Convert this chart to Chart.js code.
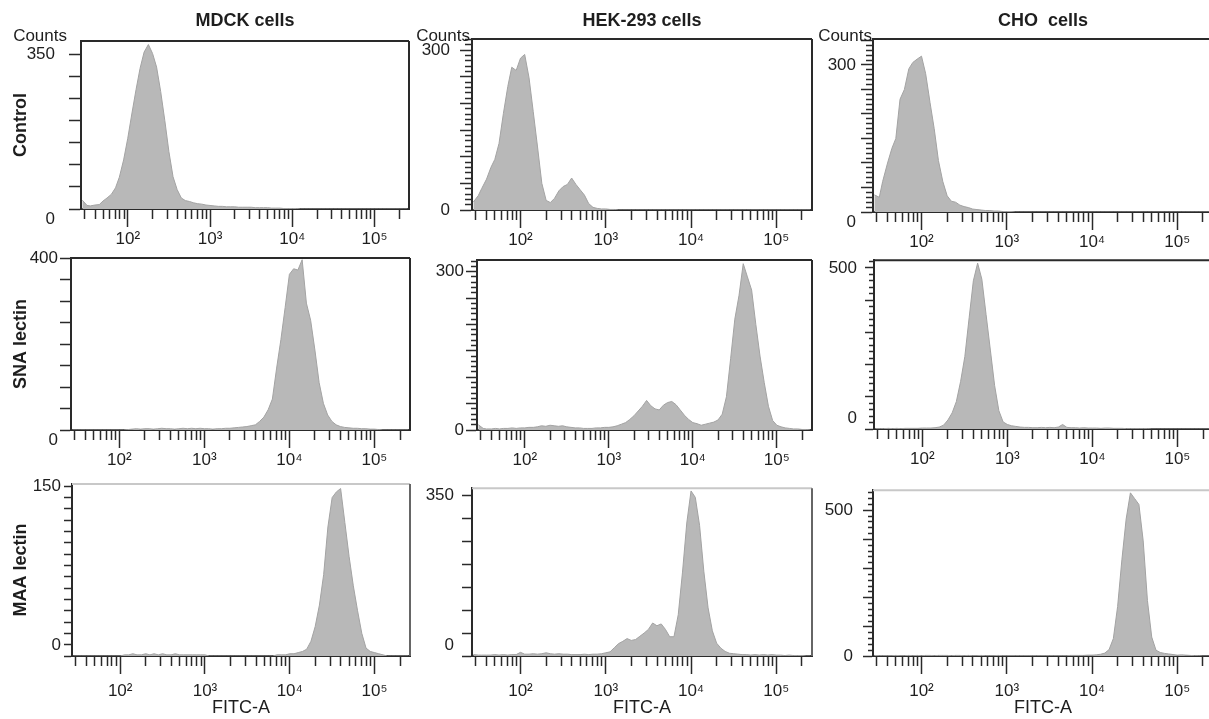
<!DOCTYPE html>
<html>
<head>
<meta charset="utf-8">
<script src="https://cdn.jsdelivr.net/npm/chart.js@4.4.1/dist/chart.umd.min.js"></script>
<style>
  html, body { margin: 0; padding: 0; background: #fff; overflow: hidden; }
  body { width: 1209px; height: 719px; position: relative; }
  canvas { position: absolute; }
</style>
</head>
<body>
<script>
// FITC-A value at the centre of each histogram bin (same bins in every panel)
var fitcBins = [28, 32, 35, 40, 45, 50, 56, 63, 71, 79, 89,
  100, 112, 126, 141, 158, 178, 200, 224, 251, 282, 316, 355, 398, 447, 501, 562, 631, 708, 794, 891,
  1000, 1122, 1259, 1413, 1585, 1778, 1995, 2239, 2512, 2818, 3162, 3548, 3981, 4467, 5012, 5623, 6310, 7079, 7943, 8913,
  10000, 11220, 12589, 14125, 15849, 17783, 19953, 22387, 25119, 28184, 31623, 35481, 39811, 44668, 50119, 56234, 63096, 70795, 79433, 89125,
  100000, 112202, 125893, 141254, 158489, 177828, 199526, 223872, 251189];

var fitcMin = 27
var fitcMax = 262144
var xTickValues = [30, 40, 50, 60, 70, 80, 90,
  100, 200, 300, 400, 500, 600, 700, 800, 900,
  1000, 2000, 3000, 4000, 5000, 6000, 7000, 8000, 9000,
  10000, 20000, 30000, 40000, 50000, 60000, 70000, 80000, 90000,
  100000, 200000];
var xLabelValues = [100, 1000, 10000, 100000];
var xLabelTexts = ['10²', '10³', '10⁴', '10⁵'];

var cellLines = ['MDCK cells', 'HEK-293 cells', 'CHO  cells'];
var stainings = ['Control', 'SNA lectin', 'MAA lectin'];

// counts per bin
var mdckControl = [20, 8, 7, 9, 10, 18, 25, 33, 48, 72,
  111, 160, 215, 270, 318, 355, 372, 352, 321, 266,
  200, 130, 73, 44, 25, 19, 17, 14, 12, 11,
  9, 8, 7, 6, 6, 5, 5, 5, 4, 4,
  4, 4, 3, 3, 3, 3, 2, 2, 2, 1,
  1, 1, 1, 0, 0, 0, 0, 0, 0, 0,
  0, 0, 0, 0, 0, 0, 0, 0, 0, 0,
  0, 0, 0, 0, 0, 0, 0, 0, 0, 0];
var hekControl = [15, 27, 40, 58, 80, 95, 125, 181, 232, 268,
  262, 285, 292, 248, 185, 120, 50, 18, 14, 22,
  36, 44, 48, 60, 48, 38, 28, 12, 5, 3,
  2, 2, 1, 1, 0, 0, 0, 0, 0, 0,
  0, 0, 0, 0, 0, 0, 0, 0, 0, 0,
  0, 0, 0, 0, 0, 0, 0, 0, 0, 0,
  0, 0, 0, 0, 0, 0, 0, 0, 0, 0,
  0, 0, 0, 0, 0, 0, 0, 0, 0, 0];
var choControl = [35, 30, 62, 100, 130, 150, 230, 250, 292, 305,
  312, 318, 282, 223, 170, 105, 62, 33, 22, 20,
  14, 11, 9, 6, 5, 4, 3, 3, 2, 2,
  1, 1, 1, 0, 0, 0, 0, 0, 0, 0,
  0, 0, 0, 0, 0, 0, 0, 0, 0, 0,
  0, 0, 0, 0, 0, 0, 0, 0, 0, 0,
  0, 0, 0, 0, 0, 0, 0, 0, 0, 0,
  0, 0, 0, 0, 0, 0, 0, 0, 0, 0];
var mdckSna = [0, 0, 0, 0, 0, 0, 0, 0, 0, 0,
  0, 0, 0, 1, 2, 3, 2, 3, 3, 2,
  3, 4, 3, 3, 2, 3, 4, 3, 4, 3,
  4, 3, 3, 2, 3, 3, 4, 4, 5, 6,
  7, 8, 10, 12, 20, 30, 47, 72, 144, 210,
  285, 362, 375, 372, 396, 295, 255, 186, 110, 62,
  35, 20, 12, 8, 6, 5, 4, 4, 3, 3,
  2, 2, 1, 0, 0, 0, 0, 0, 0, 0];
var hekSna = [10, 3, 2, 2, 3, 2, 3, 3, 4, 3,
  4, 4, 5, 5, 6, 8, 7, 9, 8, 7,
  8, 6, 5, 4, 4, 3, 3, 3, 4, 4,
  5, 5, 6, 8, 11, 14, 20, 27, 36, 45,
  56, 46, 40, 38, 47, 52, 54, 48, 38, 28,
  20, 14, 12, 9, 11, 13, 15, 19, 30, 63,
  135, 210, 255, 315, 290, 265, 200, 140, 90, 45,
  18, 9, 6, 4, 3, 2, 2, 1, 1, 0];
var choSna = [1, 1, 1, 2, 1, 2, 1, 2, 2, 2,
  2, 3, 3, 3, 4, 6, 12, 28, 50, 85,
  148, 225, 345, 460, 515, 465, 355, 245, 135, 57,
  22, 14, 10, 8, 6, 5, 5, 4, 4, 5,
  4, 5, 4, 6, 14, 5, 4, 4, 3, 4,
  3, 3, 3, 2, 3, 3, 2, 2, 2, 1,
  1, 1, 1, 1, 1, 0, 0, 0, 0, 0,
  0, 0, 0, 0, 0, 0, 0, 0, 0, 0];
var mdckMaa = [0, 0, 0, 0, 0, 0, 0, 0, 0, 0,
  0, 0, 1, 1, 2, 1, 1, 2, 1, 2,
  1, 2, 1, 1, 2, 1, 1, 1, 1, 1,
  1, 1, 0, 0, 0, 0, 0, 0, 0, 0,
  0, 0, 0, 0, 0, 0, 0, 0, 1, 1,
  1, 2, 2, 3, 4, 6, 13, 26, 45, 72,
  114, 140, 145, 148, 118, 88, 62, 40, 20, 7,
  4, 3, 2, 1, 0, 0, 0, 0, 0, 0];
var hekMaa = [3, 2, 2, 2, 2, 3, 2, 3, 2, 3,
  3, 8, 4, 4, 5, 4, 5, 7, 5, 4,
  5, 4, 4, 3, 3, 3, 4, 3, 4, 4,
  5, 7, 9, 18, 27, 32, 38, 34, 36, 43,
  50, 58, 72, 66, 70, 58, 42, 42, 90, 183,
  290, 360, 346, 285, 185, 105, 55, 28, 17, 10,
  6, 5, 4, 3, 3, 2, 3, 2, 3, 2,
  3, 2, 2, 1, 2, 1, 1, 1, 0, 0];
var choMaa = [2, 1, 1, 1, 1, 2, 1, 1, 2, 1,
  2, 1, 2, 2, 1, 2, 2, 2, 1, 2,
  2, 1, 2, 1, 1, 2, 1, 1, 1, 2,
  1, 1, 1, 1, 1, 1, 1, 1, 1, 1,
  1, 1, 1, 1, 1, 1, 2, 2, 2, 2,
  3, 3, 4, 6, 10, 22, 60, 170, 330, 470,
  560, 540, 520, 395, 190, 65, 20, 12, 9, 7,
  5, 3, 4, 3, 2, 1, 1, 0, 0, 0];

var histograms = [mdckControl, hekControl, choControl, mdckSna, hekSna, choSna, mdckMaa, hekMaa, choMaa];

// counts axis of each panel: top, minor and major tick steps, labelled ticks
var yMax = [380, 321, 353, 400, 322, 524, 152, 366, 569];
var yMinorStep = [50, 10, 10, 50, 10, 20, 10, 50, 20];
var yMajorStep = [50, 50, 50, 50, 50, 100, 10, 50, 100];
var yLabelValues = [[0, 350], [0, 300], [0, 300], [0, 400], [0, 300], [0, 500], [0, 150], [0, 350], [0, 500]];

// layout (page pixels): plot frame left, top, right, bottom
var frames = [
  [81, 41, 409, 209], [472, 39, 812, 210], [873, 39, 1213, 212],
  [71, 258, 410, 430], [477, 260, 812, 430], [874, 256, 1213, 429],
  [72, 484, 410, 656], [472, 484, 812, 656], [873, 484, 1213, 656]
];
var yMinorLen = [12, 7, 7, 11, 6, 5, 8, 10, 5];
var yMajorLen = [12, 12, 12, 11, 11, 9, 8, 10, 10];
var yLabelPad = [14, 10, 5, 2, 2, 8, 3, 8, 10];
var zeroShift = [1, 0, 1, 1, 0, -1, -1, -1, 0]; // "0" printed a line below / above its tick
var xMinorLen = 10;
var xMajorExtra = 8;
var xLabelPad = [2, 2, 7];
var rowBottom = [252, 472, 719];
var countsGap = [14, 2, 1];

var FONT = "'Liberation Sans', Arial, sans-serif";
var INK = '#1e1e1e';
var LINE = '#2a2a2a';
Chart.defaults.font.family = FONT;
Chart.defaults.color = INK;

// top and right side of the frame, plus column headings
Chart.register({
  id: 'panelDecor',
  afterDraw: function (chart, args, opts) {
    var ctx = chart.ctx;
    var a = chart.chartArea;
    ctx.save();
    ctx.lineWidth = 2;
    ctx.strokeStyle = opts.topColor;
    ctx.beginPath();
    ctx.moveTo(a.left, a.top);
    ctx.lineTo(a.right, a.top);
    ctx.stroke();
    ctx.strokeStyle = opts.rightColor;
    ctx.beginPath();
    ctx.moveTo(a.right, a.top);
    ctx.lineTo(a.right, a.bottom);
    ctx.stroke();
    ctx.fillStyle = INK;
    ctx.textBaseline = 'middle';
    if (opts.heading) {
      ctx.font = 'bold 18px ' + FONT;
      ctx.textAlign = 'center';
      ctx.fillText(opts.heading, (a.left + a.right) / 2, 21);
    }
    if (opts.counts) {
      ctx.font = '17px ' + FONT;
      ctx.textAlign = 'right';
      ctx.fillText('Counts', a.left - opts.countsGap, 36);
    }
    ctx.restore();
  }
});

function stepTicks(max, step) {
  var t = [];
  for (var v = 0; v <= max; v += step) t.push({ value: v });
  return t;
}

function drawPanel(p) {
  var row = Math.floor(p / 3);
  var col = p % 3;
  var f = frames[p];
  var cl = col == 0 ? 0 : f[0] - 62;
  var ct = row == 0 ? 0 : f[1] - 14;
  var cr = f[2] + 3;
  var cb = rowBottom[row];
  var yW = f[0] - cl;
  var xH = cb - f[3];
  var lastRow = row == 2;

  var canvas = document.createElement('canvas');
  canvas.width = cr - cl;
  canvas.height = cb - ct;
  canvas.style.left = cl + 'px';
  canvas.style.top = ct + 'px';
  document.body.appendChild(canvas);

  new Chart(canvas, {
    type: 'line',
    data: {
      labels: fitcBins,
      datasets: [{
        data: histograms[p],
        fill: 'origin',
        backgroundColor: '#b8b8b8',
        borderColor: '#a3a3a3',
        borderWidth: 1,
        pointRadius: 0,
        tension: 0
      }]
    },
    options: {
      responsive: false,
      animation: false,
      devicePixelRatio: 1,
      layout: { padding: { top: f[1] - ct, right: cr - f[2], left: 0, bottom: 0 } },
      plugins: {
        legend: { display: false },
        tooltip: { enabled: false },
        panelDecor: {
          topColor: lastRow ? '#c8c8c8' : LINE,
          rightColor: lastRow ? '#666' : LINE,
          heading: row == 0 ? cellLines[col] : '',
          counts: row == 0,
          countsGap: countsGap[col]
        }
      },
      scales: {
        // FITC-A axis with every tick mark
        x: {
          type: 'logarithmic',
          min: fitcMin,
          max: fitcMax,
          bounds: 'data',
          weight: 0,
          z: 1,
          afterBuildTicks: function (axis) {
            axis.ticks = xTickValues.map(function (v) { return { value: v }; });
          },
          afterFit: function (axis) { axis.height = xMinorLen; },
          grid: { drawOnChartArea: false, drawTicks: true, tickLength: xMinorLen, tickWidth: 1.5, tickColor: LINE },
          border: { display: true, color: LINE, width: 2 },
          ticks: { display: false, autoSkip: false }
        },
        // decades: longer marks and labels
        x2: {
          type: 'logarithmic',
          position: 'bottom',
          min: fitcMin,
          max: fitcMax,
          bounds: 'data',
          weight: 1,
          z: 1,
          afterBuildTicks: function (axis) {
            axis.ticks = xLabelValues.map(function (v) { return { value: v }; });
          },
          afterFit: function (axis) { axis.height = xH - xMinorLen; },
          grid: { drawOnChartArea: false, drawTicks: true, tickLength: xMajorExtra, tickWidth: 1.5, tickColor: LINE },
          border: { display: false },
          ticks: {
            autoSkip: false, maxRotation: 0, minRotation: 0,
            padding: xLabelPad[row],
            font: { size: 17 },
            color: INK,
            callback: function (v) {
              var k = xLabelValues.indexOf(v);
              return k >= 0 ? xLabelTexts[k] : '';
            }
          },
          title: { display: lastRow, text: 'FITC-A', font: { size: 18 }, color: INK, padding: { top: 0, bottom: 0 } }
        },
        // counts axis, short marks
        y: {
          type: 'linear',
          min: 0,
          max: yMax[p],
          bounds: 'data',
          weight: 0,
          z: 1,
          afterBuildTicks: function (axis) { axis.ticks = stepTicks(yMax[p], yMinorStep[p]); },
          afterFit: function (axis) { axis.width = yMinorLen[p]; },
          grid: { drawOnChartArea: false, drawTicks: true, tickLength: yMinorLen[p], tickWidth: 1.5, tickColor: LINE },
          border: { display: true, color: LINE, width: 2 },
          ticks: { display: false, autoSkip: false }
        },
        // counts axis, long marks and labels
        y2: {
          type: 'linear',
          position: 'left',
          min: 0,
          max: yMax[p],
          bounds: 'data',
          weight: 1,
          z: 1,
          afterBuildTicks: function (axis) { axis.ticks = stepTicks(yMax[p], yMajorStep[p]); },
          afterFit: function (axis) { axis.width = yW - yMinorLen[p]; },
          grid: { drawOnChartArea: false, drawTicks: yMajorLen[p] > yMinorLen[p], tickLength: yMajorLen[p] - yMinorLen[p], tickWidth: 1.5, tickColor: LINE },
          border: { display: false },
          ticks: {
            autoSkip: false,
            padding: yLabelPad[p],
            font: { size: 17 },
            color: INK,
            callback: function (v) {
              if (yLabelValues[p].indexOf(v) < 0) return '';
              if (v == 0 && zeroShift[p] > 0) return ['', '0'];
              if (v == 0 && zeroShift[p] < 0) return ['0', ''];
              return String(v);
            }
          },
          title: { display: col == 0, text: stainings[row], font: { size: 18, weight: 'bold' }, color: INK, padding: { top: 10, bottom: 0 } }
        }
      }
    }
  });
}

for (var p = 0; p < 9; p++) {
  drawPanel(p);
}
</script>
</body>
</html>
